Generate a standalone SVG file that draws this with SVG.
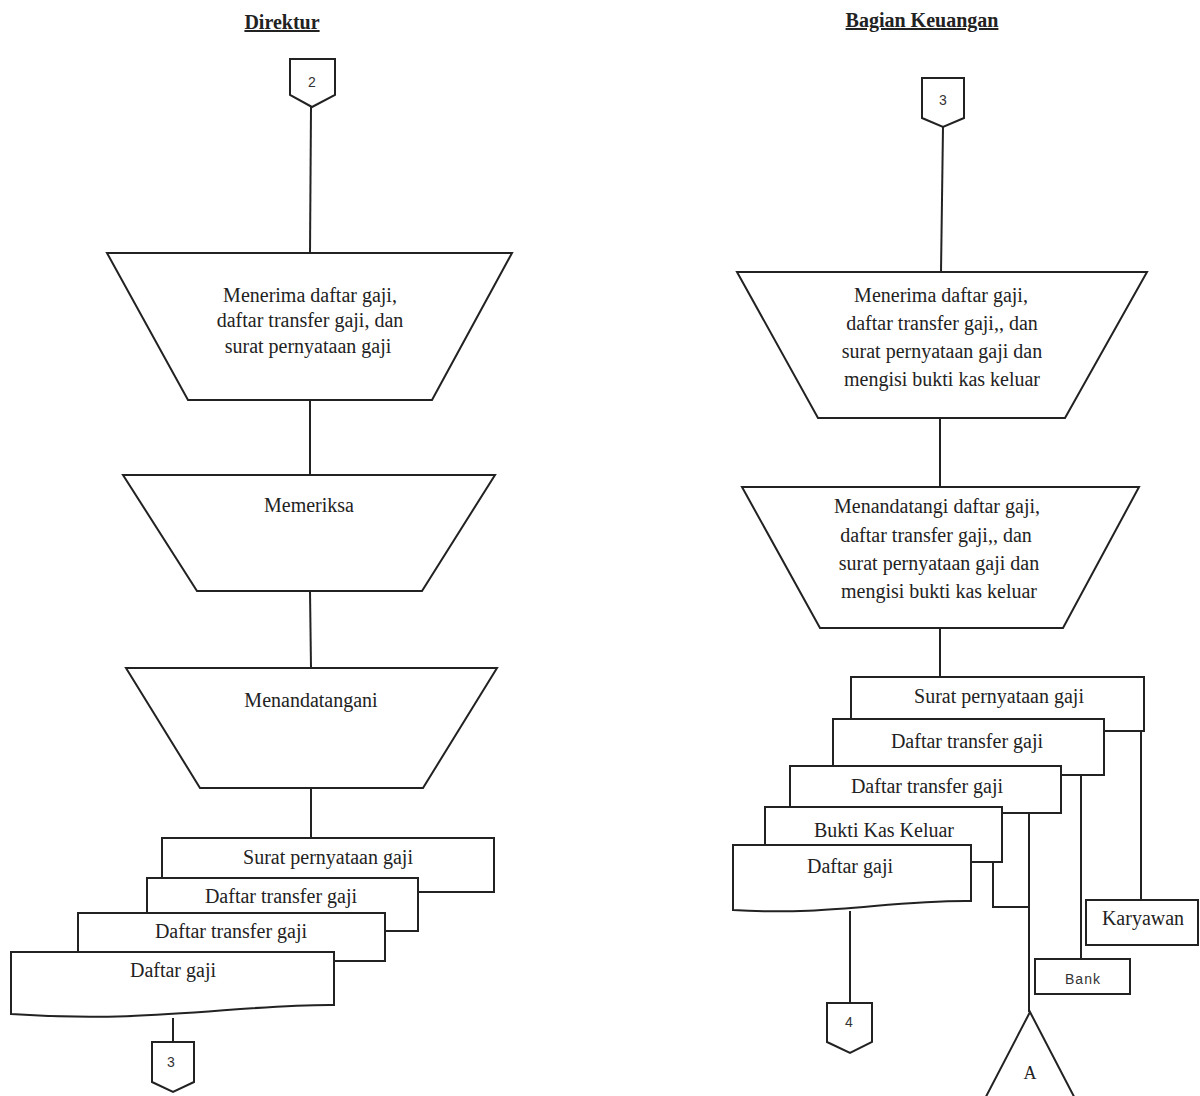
<svg xmlns="http://www.w3.org/2000/svg" width="1200" height="1096" viewBox="0 0 1200 1096">
<style>
.s{fill:#fff;stroke:#222;stroke-width:2}
.c{fill:none;stroke:#222;stroke-width:2}
.t{font-family:"Liberation Serif","Times New Roman",serif;font-size:20px;fill:#222;text-anchor:middle}
.h{font-family:"Liberation Serif","Times New Roman",serif;font-size:20px;font-weight:bold;fill:#222;text-anchor:middle;text-decoration:underline}
.n{font-family:"Liberation Sans",Arial,sans-serif;font-size:14px;fill:#333;text-anchor:middle}
</style>
<rect width="1200" height="1096" fill="#fff"/>
<g id="connectors">
<line class="c" x1="311" y1="107" x2="310" y2="253"/>
<line class="c" x1="310" y1="400" x2="310" y2="475"/>
<line class="c" x1="310" y1="591" x2="311" y2="668"/>
<line class="c" x1="311" y1="788" x2="311" y2="838"/>
<line class="c" x1="173" y1="1018" x2="173" y2="1042"/>
<line class="c" x1="943" y1="127" x2="941" y2="272"/>
<line class="c" x1="940" y1="418" x2="940" y2="487"/>
<line class="c" x1="940" y1="628" x2="940" y2="677"/>
<line class="c" x1="1141" y1="731" x2="1141" y2="900"/>
<line class="c" x1="1081" y1="775" x2="1081" y2="959"/>
<line class="c" x1="1029" y1="813" x2="1029" y2="1012"/>
<polyline class="c" points="993,862 993,907 1029,907"/>
<line class="c" x1="850" y1="911" x2="850" y2="1003"/>
</g>
<g id="title-direktur"><text class="h" x="282" y="29">Direktur</text></g>
<g id="title-keuangan"><text class="h" x="922" y="27">Bagian Keuangan</text></g>
<g id="conn-2"><polygon class="s" points="290,59 335,59 335,95 312,107 290,95"/><text class="n" x="312" y="87">2</text></g>
<g id="op-menerima-dir"><polygon class="s" points="107,253 512,253 432,400 188,400"/>
<text class="t" x="310" y="302">Menerima daftar gaji,</text>
<text class="t" x="310" y="327">daftar transfer gaji, dan</text>
<text class="t" x="308" y="353">surat pernyataan gaji</text></g>
<g id="op-memeriksa"><polygon class="s" points="123,475 495,475 422,591 197,591"/><text class="t" x="309" y="512">Memeriksa</text></g>
<g id="op-menandatangani"><polygon class="s" points="126,668 497,668 423,788 200,788"/><text class="t" x="311" y="707">Menandatangani</text></g>
<g id="doc-l1"><rect class="s" x="162" y="838" width="332" height="54"/><text class="t" x="328" y="864">Surat pernyataan gaji</text></g>
<g id="doc-l2"><rect class="s" x="147" y="878" width="271" height="53"/><text class="t" x="281" y="903">Daftar transfer gaji</text></g>
<g id="doc-l3"><rect class="s" x="78" y="913" width="307" height="48"/><text class="t" x="231" y="938">Daftar transfer gaji</text></g>
<g id="doc-l4"><path class="s" d="M11,952 H334 V1005 C240,1004 150,1024 11,1014 Z"/><text class="t" x="173" y="977">Daftar gaji</text></g>
<g id="conn-3-left"><polygon class="s" points="152,1042 194,1042 194,1082 173,1092 152,1082"/><text class="n" x="171" y="1067">3</text></g>
<g id="conn-3-right"><polygon class="s" points="922,78 964,78 964,118 943,127 922,118"/><text class="n" x="943" y="105">3</text></g>
<g id="op-menerima-keu"><polygon class="s" points="737,272 1147,272 1065,418 818,418"/>
<text class="t" x="941" y="302">Menerima daftar gaji,</text>
<text class="t" x="942" y="330">daftar transfer gaji,, dan</text>
<text class="t" x="942" y="358">surat pernyataan gaji dan</text>
<text class="t" x="942" y="386">mengisi bukti kas keluar</text></g>
<g id="op-menandatangi-keu"><polygon class="s" points="742,487 1139,487 1063,628 820,628"/>
<text class="t" x="937" y="513">Menandatangi daftar gaji,</text>
<text class="t" x="936" y="542">daftar transfer gaji,, dan</text>
<text class="t" x="939" y="570">surat pernyataan gaji dan</text>
<text class="t" x="939" y="598">mengisi bukti kas keluar</text></g>
<g id="doc-r1"><rect class="s" x="851" y="677" width="293" height="54"/><text class="t" x="999" y="703">Surat pernyataan gaji</text></g>
<g id="doc-r2"><rect class="s" x="833" y="719" width="271" height="56"/><text class="t" x="967" y="748">Daftar transfer gaji</text></g>
<g id="doc-r3"><rect class="s" x="790" y="766" width="271" height="47"/><text class="t" x="927" y="793">Daftar transfer gaji</text></g>
<g id="doc-r4"><rect class="s" x="765" y="807" width="237" height="55"/><text class="t" x="884" y="837">Bukti Kas Keluar</text></g>
<g id="doc-r5"><path class="s" d="M733,845 H971 V901 C890,900 830,916 733,910 Z"/><text class="t" x="850" y="873">Daftar gaji</text></g>
<g id="karyawan"><rect class="s" x="1086" y="900" width="112" height="45"/><text class="t" x="1143" y="925">Karyawan</text></g>
<g id="bank"><rect class="s" x="1035" y="959" width="95" height="35"/><text class="n" x="1083" y="984" style="letter-spacing:1px">Bank</text></g>
<g id="conn-4"><polygon class="s" points="827,1003 872,1003 872,1042 850,1053 827,1042"/><text class="n" x="849" y="1027">4</text></g>
<g id="conn-a"><polygon class="s" points="1030,1012 978,1112 1082,1112"/><text class="t" x="1030" y="1079" style="font-size:18px">A</text></g>
</svg>
